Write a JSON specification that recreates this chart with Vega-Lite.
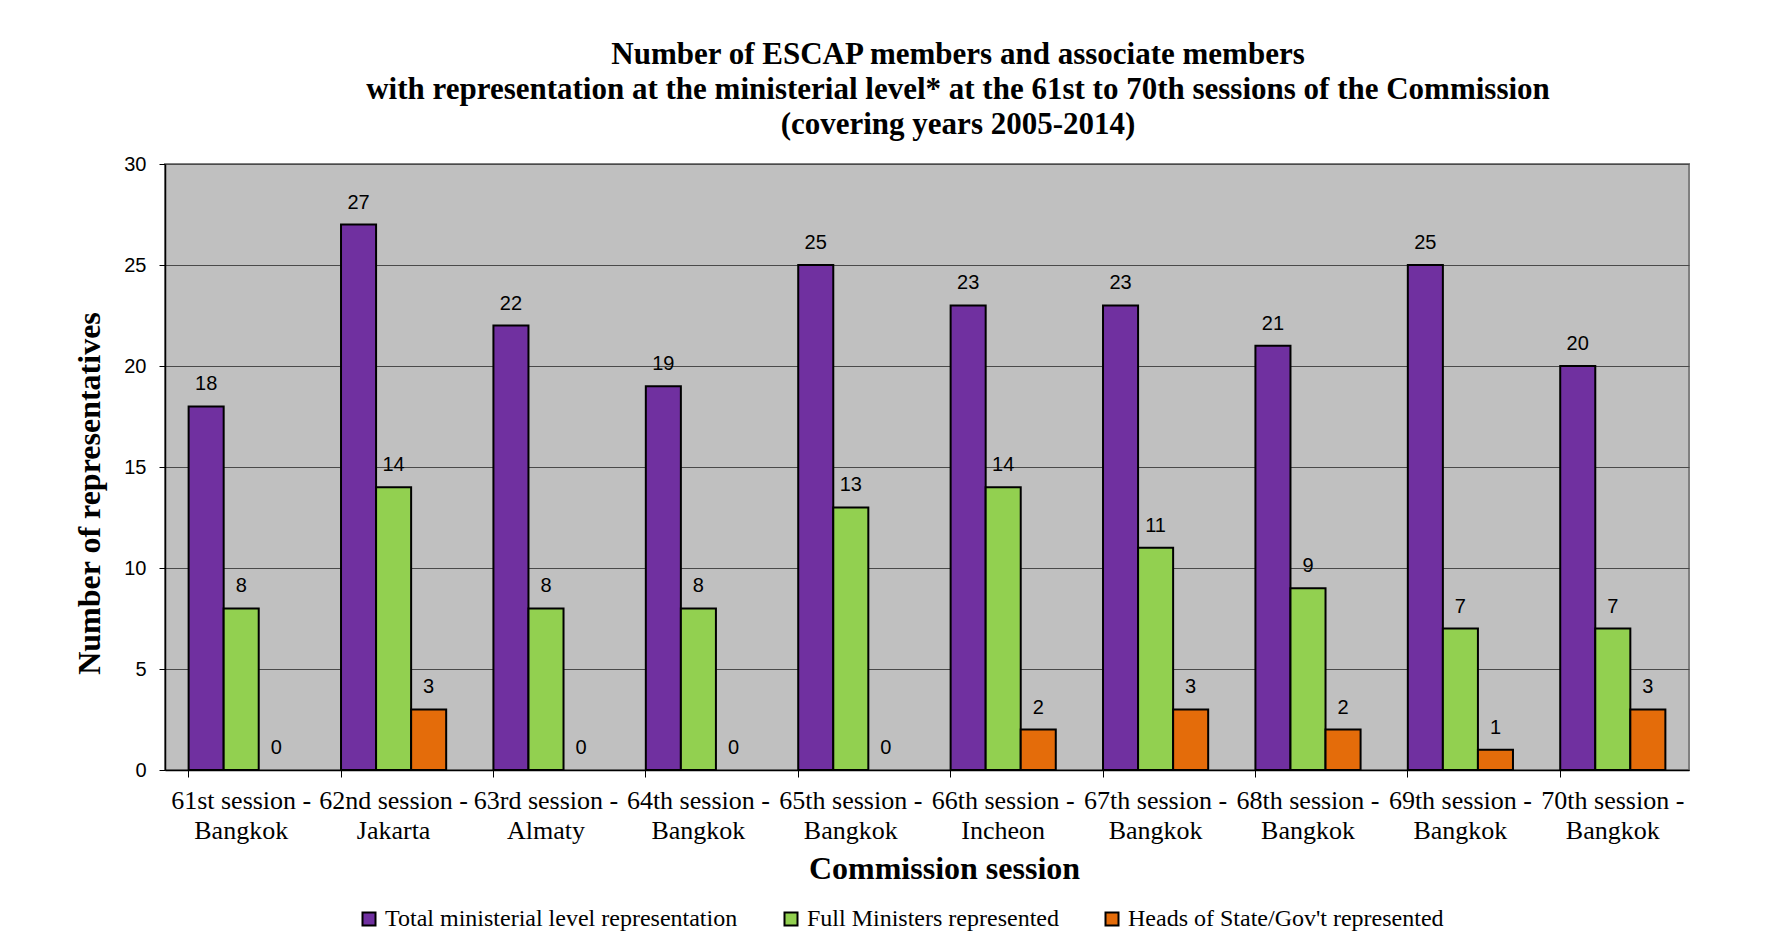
{
  "$schema": "https://vega.github.io/schema/vega-lite/v6.json",
  "width": 1524,
  "height": 606,
  "autosize": "none",
  "padding": {"left": 165, "top": 164, "right": 94, "bottom": 180},
  "background": "white",
  "title": {
    "text": ["Number of ESCAP members and  associate members", "with representation at the ministerial level* at the 61st to 70th sessions of the Commission", "(covering years 2005-2014)"],
    "font": "Liberation Serif",
    "fontSize": 31,
    "fontWeight": "bold",
    "lineHeight": 35,
    "color": "black",
    "anchor": "middle",
    "dx": 31,
    "offset": 13
  },
  "config": {
    "view": {"fill": "#C0C0C0", "stroke": "#808080", "strokeWidth": 2}
  },
  "data": {
    "values": [
      {"session": "61st session - Bangkok", "series": "Total ministerial level representation", "value": 18},
      {"session": "61st session - Bangkok", "series": "Full Ministers represented", "value": 8},
      {"session": "61st session - Bangkok", "series": "Heads of State/Gov't represented", "value": 0},
      {"session": "62nd session - Jakarta", "series": "Total ministerial level representation", "value": 27},
      {"session": "62nd session - Jakarta", "series": "Full Ministers represented", "value": 14},
      {"session": "62nd session - Jakarta", "series": "Heads of State/Gov't represented", "value": 3},
      {"session": "63rd session - Almaty", "series": "Total ministerial level representation", "value": 22},
      {"session": "63rd session - Almaty", "series": "Full Ministers represented", "value": 8},
      {"session": "63rd session - Almaty", "series": "Heads of State/Gov't represented", "value": 0},
      {"session": "64th session - Bangkok", "series": "Total ministerial level representation", "value": 19},
      {"session": "64th session - Bangkok", "series": "Full Ministers represented", "value": 8},
      {"session": "64th session - Bangkok", "series": "Heads of State/Gov't represented", "value": 0},
      {"session": "65th session - Bangkok", "series": "Total ministerial level representation", "value": 25},
      {"session": "65th session - Bangkok", "series": "Full Ministers represented", "value": 13},
      {"session": "65th session - Bangkok", "series": "Heads of State/Gov't represented", "value": 0},
      {"session": "66th session - Incheon", "series": "Total ministerial level representation", "value": 23},
      {"session": "66th session - Incheon", "series": "Full Ministers represented", "value": 14},
      {"session": "66th session - Incheon", "series": "Heads of State/Gov't represented", "value": 2},
      {"session": "67th session - Bangkok", "series": "Total ministerial level representation", "value": 23},
      {"session": "67th session - Bangkok", "series": "Full Ministers represented", "value": 11},
      {"session": "67th session - Bangkok", "series": "Heads of State/Gov't represented", "value": 3},
      {"session": "68th session - Bangkok", "series": "Total ministerial level representation", "value": 21},
      {"session": "68th session - Bangkok", "series": "Full Ministers represented", "value": 9},
      {"session": "68th session - Bangkok", "series": "Heads of State/Gov't represented", "value": 2},
      {"session": "69th session - Bangkok", "series": "Total ministerial level representation", "value": 25},
      {"session": "69th session - Bangkok", "series": "Full Ministers represented", "value": 7},
      {"session": "69th session - Bangkok", "series": "Heads of State/Gov't represented", "value": 1},
      {"session": "70th session - Bangkok", "series": "Total ministerial level representation", "value": 20},
      {"session": "70th session - Bangkok", "series": "Full Ministers represented", "value": 7},
      {"session": "70th session - Bangkok", "series": "Heads of State/Gov't represented", "value": 3}
    ]
  },
  "encoding": {
    "x": {
      "field": "session",
      "type": "nominal",
      "sort": null,
      "scale": {"paddingInner": 0.31, "paddingOuter": 0.155},
      "axis": {
        "title": "Commission session",
        "titleFont": "Liberation Serif",
        "titleFontSize": 32,
        "titleFontWeight": "bold",
        "titleColor": "black",
        "titleX": 779,
        "titleY": 98,
        "titleBaseline": "middle",
        "titleAlign": "center",
        "labelAngle": 0,
        "labelFont": "Liberation Serif",
        "labelFontSize": 26,
        "labelLineHeight": 30,
        "labelColor": "black",
        "labelBaseline": "top",
        "labelPadding": 10,
        "labelExpr": "[split(datum.value, ' - ')[0] + ' -', split(datum.value, ' - ')[1]]",
        "bandPosition": 0,
        "tickSize": 7,
        "tickColor": "black",
        "tickWidth": 1,
        "domainColor": "black",
        "domainWidth": 1.5,
        "grid": false
      }
    },
    "xOffset": {
      "field": "series",
      "sort": ["Total ministerial level representation", "Full Ministers represented", "Heads of State/Gov't represented"],
      "scale": {"paddingInner": 0, "paddingOuter": 0}
    },
    "y": {
      "field": "value",
      "type": "quantitative",
      "scale": {"domain": [0, 30]},
      "axis": {
        "values": [0, 5, 10, 15, 20, 25, 30],
        "title": "Number of representatives",
        "titleFont": "Liberation Serif",
        "titleFontSize": 32,
        "titleFontWeight": "bold",
        "titleColor": "black",
        "titleX": -76,
        "titleY": 329,
        "titleAngle": -90,
        "titleAlign": "center",
        "titleBaseline": "middle",
        "labelFont": "Liberation Sans",
        "labelFontSize": 20,
        "labelColor": "black",
        "labelPadding": 13,
        "tickSize": 6,
        "tickColor": "black",
        "domainColor": "black",
        "domainWidth": 1.5,
        "grid": true,
        "gridColor": "#4a4a4a",
        "gridWidth": 1
      }
    }
  },
  "layer": [
    {
      "transform": [{"filter": "datum.value > 0"}],
      "mark": {"type": "bar", "stroke": "black", "strokeWidth": 2},
      "encoding": {
        "color": {
          "field": "series",
          "type": "nominal",
          "sort": ["Total ministerial level representation", "Full Ministers represented", "Heads of State/Gov't represented"],
          "scale": {
            "domain": ["Total ministerial level representation", "Full Ministers represented", "Heads of State/Gov't represented"],
            "range": ["#7030A0", "#92D050", "#E46C0A"]
          },
          "legend": {
            "title": null,
            "orient": "none",
            "legendX": 192,
            "legendY": 743,
            "direction": "horizontal",
            "padding": 0,
            "symbolType": "square",
            "symbolSize": 169,
            "symbolStrokeColor": "black",
            "symbolStrokeWidth": 2,
            "symbolOpacity": 1,
            "labelFont": "Liberation Serif",
            "labelFontSize": 24,
            "labelColor": "black",
            "labelOffset": 4,
            "labelLimit": 0,
            "columnPadding": 41
          }
        }
      }
    },
    {
      "mark": {"type": "text", "font": "Liberation Sans", "fontSize": 20, "color": "black", "baseline": "alphabetic", "dy": -16},
      "encoding": {
        "text": {"field": "value", "type": "quantitative"}
      }
    }
  ]
}
